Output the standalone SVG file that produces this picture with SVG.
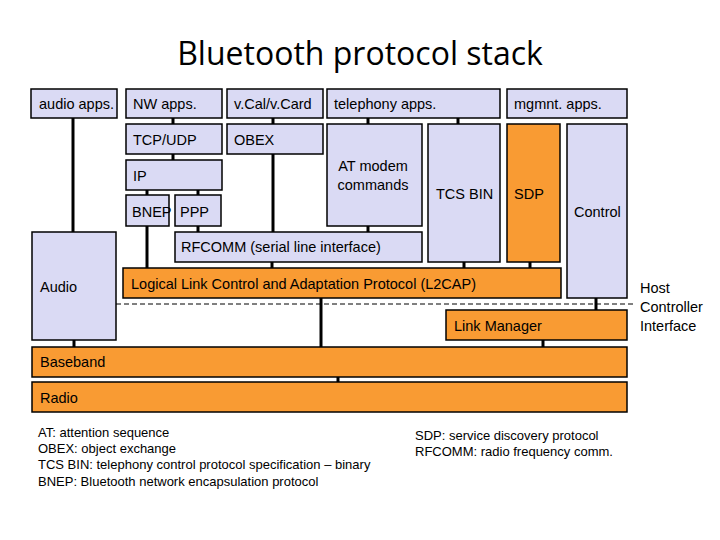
<svg xmlns="http://www.w3.org/2000/svg" width="720" height="540" viewBox="0 0 720 540">
<style>
.l{fill:#dadaf4;stroke:#000;stroke-width:1.5}
.o{fill:#f99b33;stroke:#000;stroke-width:1.5}
text{font-family:"Liberation Sans",Arial,sans-serif;font-size:14.5px;fill:#000}
.c line{stroke:#000;stroke-width:3}
.n{font-size:13px}
</style>
<rect width="720" height="540" fill="#fff"/>
<text x="360" y="65" text-anchor="middle" style="font-family:'Open Sans',sans-serif;font-size:32px">Bluetooth protocol stack</text>
<g class="c">
<line x1="73" y1="118" x2="73" y2="232"/>
<line x1="173" y1="118" x2="173" y2="124"/>
<line x1="173" y1="154" x2="173" y2="160"/>
<line x1="147" y1="190" x2="147" y2="195"/>
<line x1="198" y1="190" x2="198" y2="195"/>
<line x1="147" y1="226" x2="147" y2="268"/>
<line x1="198" y1="226" x2="198" y2="232"/>
<line x1="273" y1="118" x2="273" y2="124"/>
<line x1="273" y1="154" x2="273" y2="232"/>
<line x1="368" y1="118" x2="368" y2="124"/>
<line x1="458" y1="118" x2="458" y2="124"/>
<line x1="368" y1="226" x2="368" y2="232"/>
<line x1="272" y1="262" x2="272" y2="268"/>
<line x1="464" y1="262" x2="464" y2="268"/>
<line x1="530" y1="262" x2="530" y2="268"/>
<line x1="596" y1="298" x2="596" y2="310"/>
<line x1="321" y1="298" x2="321" y2="347"/>
<line x1="74" y1="340" x2="74" y2="347"/>
<line x1="543" y1="340" x2="543" y2="347"/>
<line x1="338" y1="377" x2="338" y2="382"/>
<line x1="116" y1="304" x2="636" y2="304" style="stroke-width:1;stroke-dasharray:5,3"/>
</g>
<g id="audioapps"><rect class="l" x="31" y="89" width="86" height="29"/><text x="39" y="109">audio apps.</text></g>
<g id="nwapps"><rect class="l" x="126" y="89" width="96" height="29"/><text x="133" y="109">NW apps.</text></g>
<g id="vcal"><rect class="l" x="227" y="89" width="96" height="29"/><text x="234" y="109">v.Cal/v.Card</text></g>
<g id="tel"><rect class="l" x="327" y="89" width="173" height="29"/><text x="334" y="109">telephony apps.</text></g>
<g id="mgmt"><rect class="l" x="507" y="89" width="120" height="29"/><text x="514" y="109">mgmnt. apps.</text></g>
<g id="tcp"><rect class="l" x="126" y="124" width="96" height="30"/><text x="133" y="145">TCP/UDP</text></g>
<g id="obex"><rect class="l" x="227" y="124" width="96" height="30"/><text x="234" y="145">OBEX</text></g>
<g id="ip"><rect class="l" x="126" y="160" width="96" height="30"/><text x="133" y="181">IP</text></g>
<g id="bnep"><rect class="l" x="126" y="195" width="43" height="31"/><text x="132" y="217">BNEP</text></g>
<g id="ppp"><rect class="l" x="175" y="195" width="46" height="31"/><text x="180" y="217">PPP</text></g>
<g id="at"><rect class="l" x="327" y="124" width="95" height="102"/><text x="373" y="171" text-anchor="middle">AT modem</text><text x="373" y="190" text-anchor="middle">commands</text></g>
<g id="tcs"><rect class="l" x="428" y="124" width="72" height="138"/><text x="436" y="199">TCS BIN</text></g>
<g id="sdp"><rect class="o" x="507" y="124" width="53" height="138"/><text x="514" y="199">SDP</text></g>
<g id="control"><rect class="l" x="567" y="124" width="60" height="174"/><text x="574" y="217">Control</text></g>
<g id="audio"><rect class="l" x="32" y="232" width="84" height="108"/><text x="40" y="292">Audio</text></g>
<g id="rfcomm"><rect class="l" x="175" y="232" width="247" height="30"/><text x="181" y="252">RFCOMM (serial line interface)</text></g>
<g id="l2cap"><rect class="o" x="123" y="268" width="438" height="30"/><text x="131" y="289">Logical Link Control and Adaptation Protocol (L2CAP)</text></g>
<g id="lm"><rect class="o" x="446" y="310" width="181" height="30"/><text x="454" y="331">Link Manager</text></g>
<g id="baseband"><rect class="o" x="32" y="347" width="595" height="30"/><text x="40" y="367">Baseband</text></g>
<g id="radio"><rect class="o" x="32" y="382" width="595" height="30"/><text x="40" y="403">Radio</text></g>
<g id="hci"><text x="640" y="293">Host</text><text x="640" y="312">Controller</text><text x="640" y="331">Interface</text></g>
<g id="notes">
<text class="n" x="38" y="437">AT: attention sequence</text>
<text class="n" x="38" y="453">OBEX: object exchange</text>
<text class="n" x="38" y="469">TCS BIN: telephony control protocol specification – binary</text>
<text class="n" x="38" y="486">BNEP: Bluetooth network encapsulation protocol</text>
<text class="n" x="415" y="440">SDP: service discovery protocol</text>
<text class="n" x="415" y="456">RFCOMM: radio frequency comm.</text>
</g>
</svg>
